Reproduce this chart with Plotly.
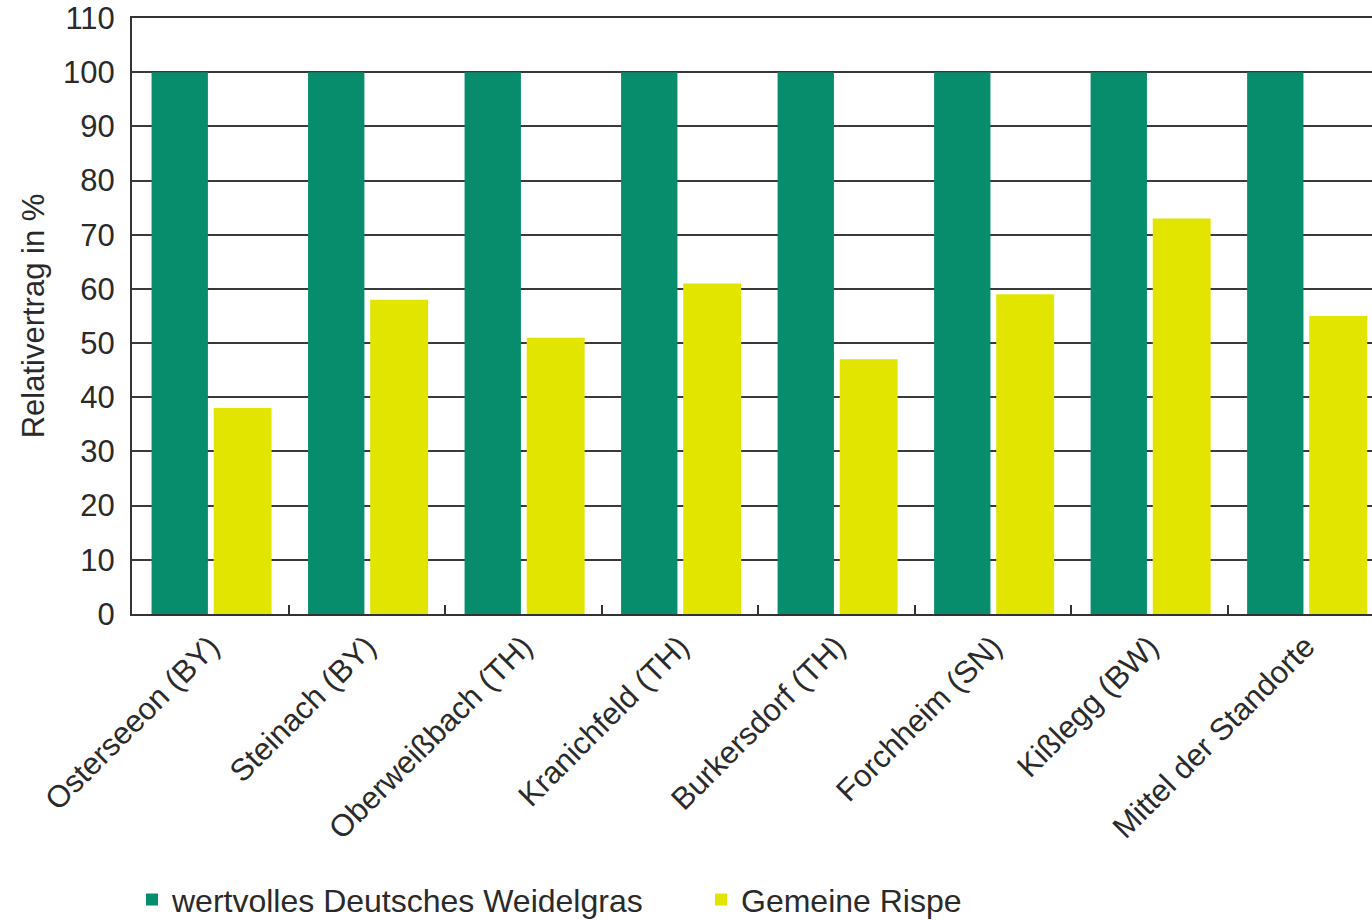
import plotly.graph_objects as go

categories = ["Osterseeon (BY)", "Steinach (BY)", "Oberweißbach (TH)", "Kranichfeld (TH)",
              "Burkersdorf (TH)", "Forchheim (SN)", "Kißlegg (BW)", "Mittel der Standorte"]
weidelgras = [100, 100, 100, 100, 100, 100, 100, 100]
rispe = [38, 58, 51, 61, 47, 59, 73, 55]
y_ticks = list(range(0, 111, 10))

GREEN = "#078c6c"
YELLOW = "#e2e500"
FONT = "Liberation Sans, Arial, sans-serif"
TXT = "#2a2a2a"

fig = go.Figure()
fig.add_trace(go.Bar(x=categories, y=weidelgras, name="wertvolles Deutsches Weidelgras",
                     marker=dict(color=GREEN, line=dict(width=0)), offset=-0.375, width=0.36))
fig.add_trace(go.Bar(x=categories, y=rispe, name="Gemeine Rispe",
                     marker=dict(color=YELLOW, line=dict(width=0)), offset=0.022, width=0.37))

fig.update_layout(
    width=1372, height=920,
    margin=dict(l=132, r=0, t=18, b=306, autoexpand=False),
    paper_bgcolor="white", plot_bgcolor="white",
    barmode="group",
    font=dict(family=FONT, size=32, color=TXT),
    showlegend=True,
    legend=dict(orientation="h", x=0.0, xanchor="left", y=0.022, yref="container", yanchor="middle",
                font=dict(family=FONT, size=32, color=TXT), itemwidth=30,
                entrywidth=524, entrywidthmode="pixels", traceorder="normal"),
)
fig.update_xaxes(
    type="category", range=[-0.5, 7.423],
    tickangle=-45, tickfont=dict(family=FONT, size=31, color=TXT),
    ticks="inside", tickson="boundaries", ticklen=9, tickwidth=2, tickcolor="#333",
    showline=True, linecolor="#333", linewidth=2, mirror=True,
    showgrid=False, automargin=False,
)
fig.update_yaxes(
    range=[0, 110], tickvals=y_ticks, ticks="", ticklabelstandoff=9,
    ticklabeloverflow="allow",
    tickfont=dict(family=FONT, size=31, color=TXT),
    showgrid=True, gridcolor="#3a3a3a", gridwidth=2,
    showline=True, linecolor="#333", linewidth=2,
    zeroline=False, automargin=False,
    title=dict(text="Relativertrag in %", font=dict(family=FONT, size=31, color=TXT), standoff=9),
)
fig.write_html("out.html", config={"displayModeBar": False},
               post_script="document.body.style.margin='0';")
